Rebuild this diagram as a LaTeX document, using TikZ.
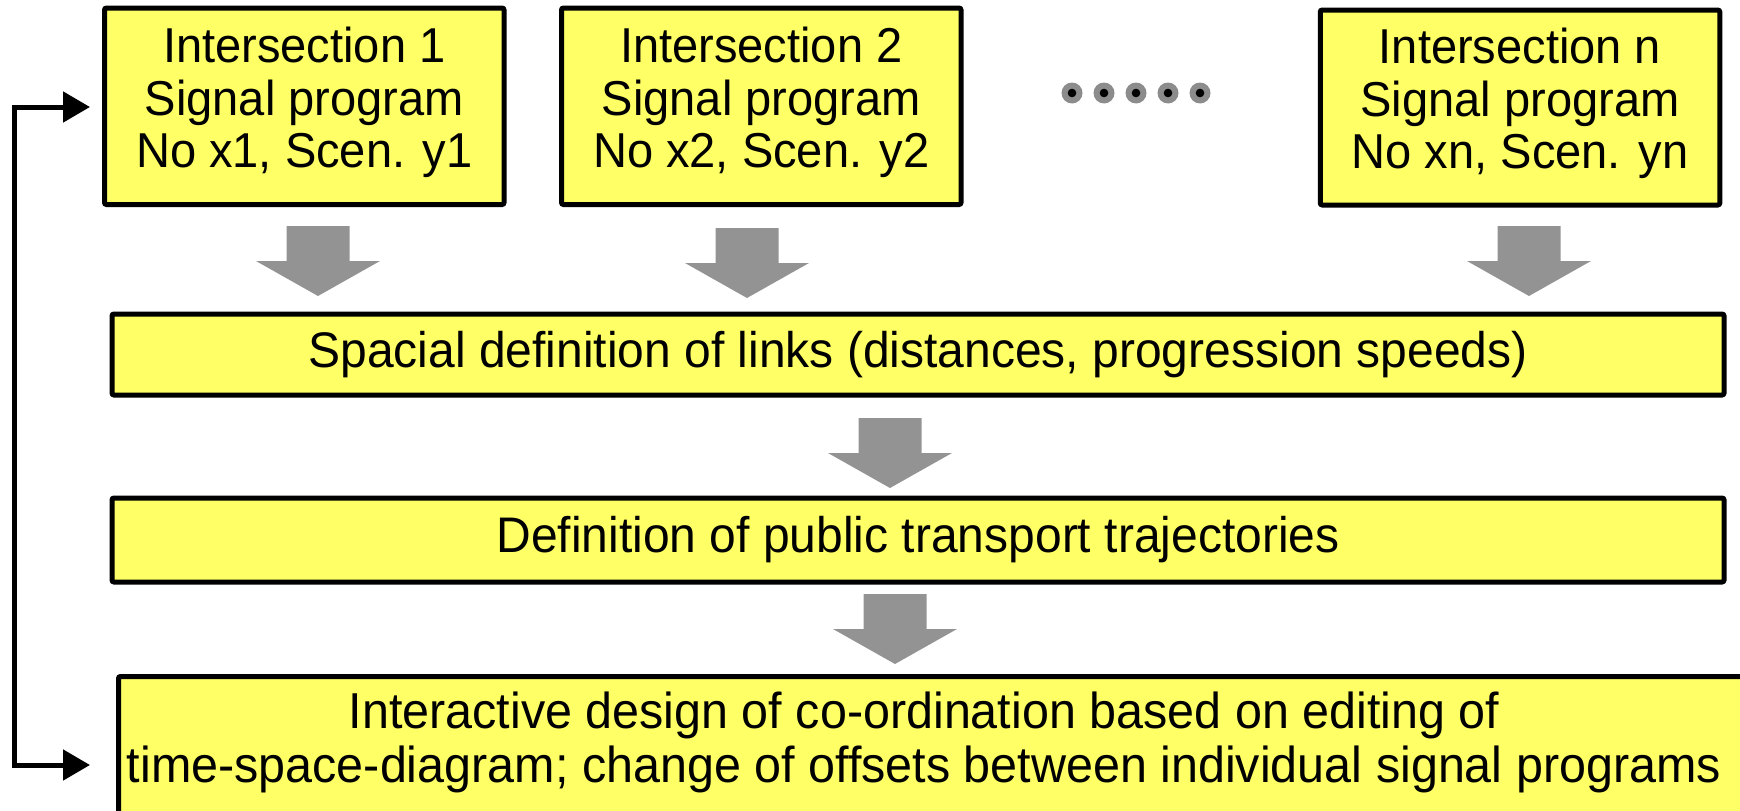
\documentclass[tikz,border=0pt]{standalone}
\usepackage{fontspec}
\setmainfont{Liberation Sans}[FakeStretch=0.96]
\usetikzlibrary{arrows.meta}
\definecolor{boxyellow}{HTML}{FFFF66}
\definecolor{arrowgray}{HTML}{939393}
\definecolor{dotgray}{HTML}{8C8C8C}
\tikzset{
  ybox/.style={draw=black, line width=5pt, fill=boxyellow, rounded corners=2pt,
    inner sep=0pt, align=center, font=\fontsize{49}{52.5}\selectfont},
  topbox/.style={ybox, minimum width=399.5pt, minimum height=196.5pt, text depth=18pt},
  widebox/.style={ybox, minimum width=1612pt, font=\fontsize{50}{53}\selectfont},
  txt/.style={inner sep=0pt, align=center, font=\fontsize{50.5}{54}\selectfont},
  conn/.style={draw=black, line width=5pt, line join=miter,
    {Triangle[length=27pt,width=30pt]}-{Triangle[length=27pt,width=30pt]}},
  pics/downarrow/.style={code={
    \fill[arrowgray] (-31.5,0) -- (31.5,0) -- (31.5,35) -- (62,35) -- (0,70)
      -- (-62,35) -- (-31.5,35) -- cycle;}}
}
\begin{document}
\begin{tikzpicture}[x=1pt, y=-1pt]
\useasboundingbox (0,0) rectangle (1740,811);
\clip (0,0) rectangle (1740,811);

% top boxes
\node[topbox] (b1) at (304.25,106.25) {Intersection 1\\Signal program\\No x1, Scen. y1};
\node[topbox] (b2) at (761.25,106.25) {Intersection 2\\Signal program\\No x2, Scen. y2};
\node[topbox, minimum height=195pt] (bn) at (1520,107.5) {Intersection n\\Signal program\\No xn, Scen. yn};

% dots
\foreach \x in {1072,1104,1136,1168,1200}{
  \fill[dotgray] (\x,93) circle (10.5);
  \fill[black] (\x,93) circle (4.3);
}

% wide boxes
\node[widebox, minimum height=81pt] (sp) at (918,354.5) {Spacial definition of links (distances, progression speeds)};
\node[widebox, minimum height=84pt] (df) at (918,540) {Definition of public transport trajectories};
\node[ybox, anchor=north west, minimum width=1700pt, minimum height=220pt] (ia) at (116,674) {};
\node[txt] (iat) at (924,742) {Interactive design of co-ordination based on editing of\\time-space-diagram; change of offsets between individual signal programs};

% gray block arrows
\coordinate (a1) at (318,226);
\coordinate (a2) at (747,228);
\coordinate (an) at (1529,226);
\coordinate (a3) at (890,418);
\coordinate (a4) at (895,594);
\pic at (a1) {downarrow};
\pic at (a2) {downarrow};
\pic at (an) {downarrow};
\pic at (a3) {downarrow};
\pic at (a4) {downarrow};

% feedback connector
\coordinate (ltop) at (90,107);
\coordinate (ctop) at (14.5,107);
\coordinate (cbot) at (14.5,765);
\coordinate (lbot) at (90,765);
\draw[conn] (ltop) -- (ctop) -- (cbot) -- (lbot);
\end{tikzpicture}
\end{document}
